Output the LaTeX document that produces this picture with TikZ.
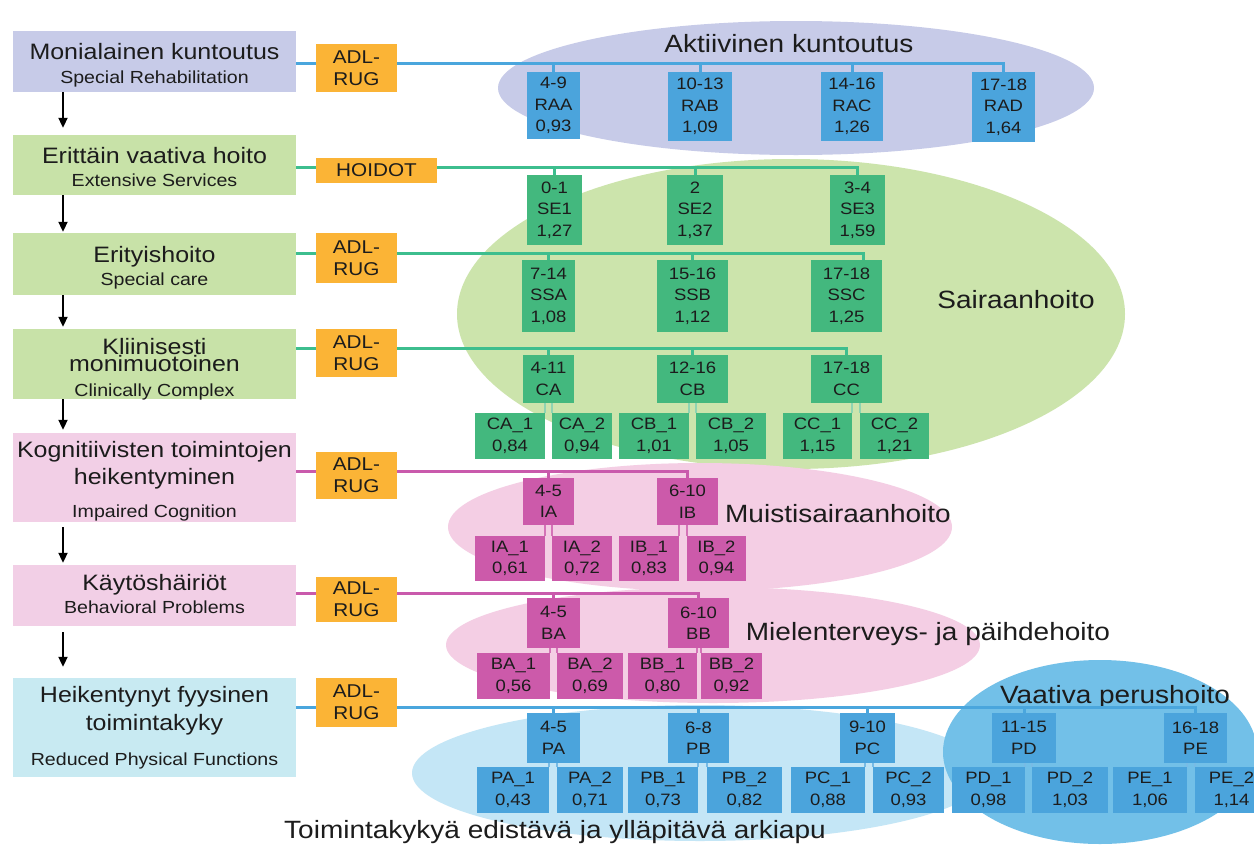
\documentclass[tikz,border=0pt]{standalone}
\usepackage{fontspec}
\setmainfont{Liberation Sans}[FakeStretch=1.12]
\usetikzlibrary{arrows.meta}
\definecolor{txt}{HTML}{1C1C1C}
\definecolor{lav}{HTML}{C7CBE8}
\definecolor{lgreen}{HTML}{C8E2A8}
\definecolor{gell}{HTML}{CCE4AC}
\definecolor{gbox}{HTML}{43B87E}
\definecolor{gline}{HTML}{3DBE8E}
\definecolor{bbox}{HTML}{4BA4DC}
\definecolor{bline}{HTML}{4AA6DD}
\definecolor{lpink}{HTML}{F2CFE6}
\definecolor{pell}{HTML}{F4CEE4}
\definecolor{mbox}{HTML}{CC5AAA}
\definecolor{mline}{HTML}{C95AAC}
\definecolor{lcyan}{HTML}{C8EAF2}
\definecolor{lbell}{HTML}{C4E6F6}
\definecolor{dbell}{HTML}{72C0E8}
\definecolor{org}{HTML}{FBB436}
\newcommand{\bxf}{\fontsize{16.5}{21.5}\selectfont}
\newcommand{\adlf}{\fontsize{18.5}{22}\selectfont}
\newcommand{\ttlf}{\fontsize{22.3}{26}\selectfont}
\newcommand{\subtf}{\fontsize{17.5}{20}\selectfont}
\newcommand{\ellf}{\fontsize{25}{28}\selectfont}
% style, name, x1, x2, y1, y2, text
\newcommand{\rbox}[7]{%
  \node[#1, minimum width={(#4-#3)*1pt}, minimum height={(#6-#5)*1pt}] (#2) at ({(#3+#4)/2},{(#5+#6)/2}) {#7};}
\begin{document}
\begin{tikzpicture}[x=1pt,y=-1pt,
  bx/.style={inner sep=0pt, align=center, font=\bxf, text=txt},
  bb/.style={bx, fill=bbox},
  gb/.style={bx, fill=gbox},
  mb/.style={bx, fill=mbox},
  lbx/.style={inner sep=0pt},
  adl/.style={inner sep=0pt, fill=org, align=center, font=\adlf, text=txt},
  bl/.style={draw=bline, line width=3pt},
  gl/.style={draw=gline, line width=3pt},
  ml/.style={draw=mline, line width=3pt},
  subb/.style={draw=bbox!75!white, line width=1.5pt},
  subg/.style={draw=gbox!60!white, line width=1.5pt},
  subm/.style={draw=mbox!85!white, line width=1.5pt},
  ttl/.style={anchor=base, font=\ttlf, text=txt, inner sep=0pt},
  subt/.style={anchor=base, font=\subtf, text=txt, inner sep=0pt},
  elab/.style={anchor=base, font=\ellf, text=txt, inner sep=0pt},
  arr/.style={-{Triangle[length=10pt,width=9pt]}, line width=2pt, draw=black},
]
\useasboundingbox (0,0) rectangle (1254,849);
\clip (0,0) rectangle (1254,849);
\fill[white] (0,0) rectangle (1254,849);

% ---- background ellipses ----
\fill[lav] (796,88) ellipse [x radius=298pt, y radius=67pt];
\fill[gell] (791,314) ellipse [x radius=334pt, y radius=155pt];
\fill[pell] (700,527) ellipse [x radius=252pt, y radius=64pt];
\fill[pell] (713,645) ellipse [x radius=267pt, y radius=58pt];
\fill[lbell] (700,773) ellipse [x radius=288pt, y radius=68pt];
\fill[dbell] (1100,752) ellipse [x radius=157pt, y radius=92pt];

% ---- ellipse labels ----
\node[elab] (lakt) at (789,52) {Aktiivinen kuntoutus};
\node[elab] (lsai) at (1016,308) {Sairaanhoito};
\node[elab] (lmui) at (838,522) {Muistisairaanhoito};
\node[elab] (lmie) at (928,640) {Mielenterveys- ja päihdehoito};
\node[elab] (lvaa) at (1115,703) {Vaativa perushoito};
\node[elab] (ltoi) at (555,838) {Toimintakykyä edistävä ja ylläpitävä arkiapu};

% ---- left column boxes ----
\rbox{lbx, fill=lav}{lb1}{13}{296}{31}{92}{}
\rbox{lbx, fill=lgreen}{lb2}{13}{296}{135}{195}{}
\rbox{lbx, fill=lgreen}{lb3}{13}{296}{233}{295}{}
\rbox{lbx, fill=lgreen}{lb4}{13}{296}{329}{399}{}
\rbox{lbx, fill=lpink}{lb5}{13}{296}{433}{522}{}
\rbox{lbx, fill=lpink}{lb6}{13}{296}{565}{626}{}
\rbox{lbx, fill=lcyan}{lb7}{13}{296}{678}{777}{}

\node[ttl] (t1a) at (154.5,59) {Monialainen kuntoutus};
\node[subt] (t1b) at (154.5,83) {Special Rehabilitation};
\node[ttl] (t2a) at (154.5,163) {Erittäin vaativa hoito};
\node[subt] (t2b) at (154.5,186) {Extensive Services};
\node[ttl] (t3a) at (154.5,262) {Erityishoito};
\node[subt] (t3b) at (154.5,285) {Special care};
\node[ttl] (t4a) at (154.5,354) {Kliinisesti};
\node[ttl] (t4b) at (154.5,371) {monimuotoinen};
\node[subt] (t4c) at (154.5,396) {Clinically Complex};
\node[ttl] (t5a) at (154.5,457) {Kognitiivisten toimintojen};
\node[ttl] (t5b) at (154.5,484) {heikentyminen};
\node[subt] (t5c) at (154.5,517) {Impaired Cognition};
\node[ttl] (t6a) at (154.5,590) {Käytöshäiriöt};
\node[subt] (t6b) at (154.5,613) {Behavioral Problems};
\node[ttl] (t7a) at (154.5,702) {Heikentynyt fyysinen};
\node[ttl] (t7b) at (154.5,730) {toimintakyky};
\node[subt] (t7c) at (154.5,765) {Reduced Physical Functions};

% ---- arrows ----
\coordinate (ax) at (63,0);
\draw[arr, shorten >=7pt] (lb1.south -| ax) -- (lb2.north -| ax);
\draw[arr, shorten >=1pt] (lb2.south -| ax) -- (lb3.north -| ax);
\draw[arr, shorten >=2pt] (lb3.south -| ax) -- (lb4.north -| ax);
\draw[arr, shorten >=3pt] (lb4.south -| ax) -- (lb5.north -| ax);
\draw[arr, shorten <=5pt, shorten >=2pt] (lb5.south -| ax) -- (lb6.north -| ax);
\draw[arr, shorten <=6pt, shorten >=11pt] (lb6.south -| ax) -- (lb7.north -| ax);

% ---- ADL / HOIDOT boxes ----
\rbox{adl}{a1}{316}{397}{44}{92}{ADL-\\RUG}
\rbox{adl}{a2}{316}{437}{158}{183}{HOIDOT}
\rbox{adl}{a3}{316}{397}{233}{283}{ADL-\\RUG}
\rbox{adl}{a4}{316}{397}{329}{377}{ADL-\\RUG}
\rbox{adl}{a5}{316}{397}{452}{499}{ADL-\\RUG}
\rbox{adl}{a6}{316}{397}{577}{622}{ADL-\\RUG}
\rbox{adl}{a7}{316}{397}{678}{727}{ADL-\\RUG}

% ---- group boxes ----
% row 1
\rbox{bb}{raa}{527}{580}{72}{139}{4-9\\RAA\\0,93}
\rbox{bb}{rab}{668}{732}{72}{141}{10-13\\RAB\\1,09}
\rbox{bb}{rac}{821}{883}{72}{141}{14-16\\RAC\\1,26}
\rbox{bb}{rad}{972}{1035}{72}{142}{17-18\\RAD\\1,64}
% row 2
\rbox{gb}{se1}{527}{582}{175}{245}{0-1\\SE1\\1,27}
\rbox{gb}{se2}{667}{723}{175}{245}{2\\SE2\\1,37}
\rbox{gb}{se3}{830}{885}{175}{245}{3-4\\SE3\\1,59}
% row 3
\rbox{gb}{ssa}{522}{575}{260}{332}{7-14\\SSA\\1,08}
\rbox{gb}{ssb}{657}{728}{260}{332}{15-16\\SSB\\1,12}
\rbox{gb}{ssc}{811}{882}{260}{332}{17-18\\SSC\\1,25}
% row 4
\rbox{gb}{ca}{523}{574}{355}{403}{4-11\\CA}
\rbox{gb}{cb}{657}{728}{355}{403}{12-16\\CB}
\rbox{gb}{cc}{811}{882}{355}{403}{17-18\\CC}
\rbox{gb}{ca1}{475}{545}{413}{459}{CA\_1\\0,84}
\rbox{gb}{ca2}{552}{612}{413}{459}{CA\_2\\0,94}
\rbox{gb}{cb1}{619}{689}{413}{459}{CB\_1\\1,01}
\rbox{gb}{cb2}{696}{766}{413}{459}{CB\_2\\1,05}
\rbox{gb}{cc1}{783}{852}{413}{459}{CC\_1\\1,15}
\rbox{gb}{cc2}{860}{929}{413}{459}{CC\_2\\1,21}
% row 5
\rbox{mb}{ia}{523}{574}{478}{525}{4-5\\IA}
\rbox{mb}{ib}{657}{718}{478}{525}{6-10\\IB}
\rbox{mb}{ia1}{475}{545}{536}{581}{IA\_1\\0,61}
\rbox{mb}{ia2}{552}{612}{536}{581}{IA\_2\\0,72}
\rbox{mb}{ib1}{619}{679}{536}{581}{IB\_1\\0,83}
\rbox{mb}{ib2}{687}{746}{536}{581}{IB\_2\\0,94}
% row 6
\rbox{mb}{ba}{527}{580}{598}{648}{4-5\\BA}
\rbox{mb}{bbx}{668}{729}{598}{648}{6-10\\BB}
\rbox{mb}{ba1}{477}{550}{653}{699}{BA\_1\\0,56}
\rbox{mb}{ba2}{557}{623}{653}{699}{BA\_2\\0,69}
\rbox{mb}{bb1}{628}{697}{653}{699}{BB\_1\\0,80}
\rbox{mb}{bb2}{701}{762}{653}{699}{BB\_2\\0,92}
% row 7
\rbox{bb}{pa}{527}{580}{713}{763}{4-5\\PA}
\rbox{bb}{pb}{668}{729}{713}{763}{6-8\\PB}
\rbox{bb}{pc}{840}{895}{713}{763}{9-10\\PC}
\rbox{bb}{pd}{992}{1056}{713}{763}{11-15\\PD}
\rbox{bb}{pe}{1164}{1227}{713}{763}{16-18\\PE}
\rbox{bb}{pa1}{477}{549}{767}{813}{PA\_1\\0,43}
\rbox{bb}{pa2}{557}{623}{767}{813}{PA\_2\\0,71}
\rbox{bb}{pb1}{628}{698}{767}{813}{PB\_1\\0,73}
\rbox{bb}{pb2}{707}{782}{767}{813}{PB\_2\\0,82}
\rbox{bb}{pc1}{791}{865}{767}{813}{PC\_1\\0,88}
\rbox{bb}{pc2}{873}{944}{767}{813}{PC\_2\\0,93}
\rbox{bb}{pd1}{952}{1025}{767}{813}{PD\_1\\0,98}
\rbox{bb}{pd2}{1032}{1108}{767}{813}{PD\_2\\1,03}
\rbox{bb}{pe1}{1113}{1187}{767}{813}{PE\_1\\1,06}
\rbox{bb}{pe2}{1195}{1268}{767}{813}{PE\_2\\1,14}

% ---- row connector lines ----
\coordinate (r1) at (0,63);
\coordinate (r2) at (0,167);
\coordinate (r3) at (0,253);
\coordinate (r4) at (0,348);
\coordinate (r5) at (0,471);
\coordinate (r6) at (0,593);
\coordinate (r7) at (0,707);

\draw[bl] (lb1.east |- r1) -- (a1.west |- r1);
\draw[bl] (a1.east |- r1) -- (rad.north |- r1) -- (rad.north);
\foreach \n in {raa,rab,rac} \draw[bl] (\n.north |- r1) -- (\n.north);

\draw[gl] (lb2.east |- r2) -- (a2.west |- r2);
\draw[gl] (a2.east |- r2) -- (se3.north |- r2) -- (se3.north);
\foreach \n in {se1,se2} \draw[gl] (\n.north |- r2) -- (\n.north);

\coordinate (ssct) at ([xshift=17pt]ssc.north);
\draw[gl] (lb3.east |- r3) -- (a3.west |- r3);
\draw[gl] (a3.east |- r3) -- (ssct |- r3) -- (ssct);
\foreach \n in {ssa,ssb} \draw[gl] (\n.north |- r3) -- (\n.north);

\draw[gl] (lb4.east |- r4) -- (a4.west |- r4);
\draw[gl] (a4.east |- r4) -- (cc.north |- r4) -- (cc.north);
\foreach \n in {ca,cb} \draw[gl] (\n.north |- r4) -- (\n.north);

\draw[ml] (lb5.east |- r5) -- (a5.west |- r5);
\draw[ml] (a5.east |- r5) -- (ib.north |- r5) -- (ib.north);
\draw[ml] (ia.north |- r5) -- (ia.north);

\draw[ml] (lb6.east |- r6) -- (a6.west |- r6);
\draw[ml] (a6.east |- r6) -- (bbx.north |- r6) -- (bbx.north);
\draw[ml] (ba.north |- r6) -- (ba.north);

\draw[bl] (lb7.east |- r7) -- (a7.west |- r7);
\draw[bl] (a7.east |- r7) -- (pe.north |- r7) -- (pe.north);
\foreach \n in {pa,pb,pc,pd} \draw[bl] (\n.north |- r7) -- (\n.north);

% ---- parent to sub-box connectors ----
\foreach \p/\a/\b in {ca/ca1/ca2, cb/cb1/cb2, cc/cc1/cc2} {
  \draw[subg] (\p.south -| \a.north east) -- (\a.north east);
  \draw[subg] (\p.south -| \b.north west) -- (\b.north west);
}
\foreach \p/\a/\b in {ia/ia1/ia2, ib/ib1/ib2, ba/ba1/ba2, bbx/bb1/bb2} {
  \draw[subm] (\p.south -| \a.north east) -- (\a.north east);
  \draw[subm] (\p.south -| \b.north west) -- (\b.north west);
}
\foreach \p/\a/\b in {pa/pa1/pa2, pb/pb1/pb2, pc/pc1/pc2, pd/pd1/pd2, pe/pe1/pe2} {
  \draw[subb] (\p.south -| \a.north east) -- (\a.north east);
  \draw[subb] (\p.south -| \b.north west) -- (\b.north west);
}
\end{tikzpicture}
\end{document}
